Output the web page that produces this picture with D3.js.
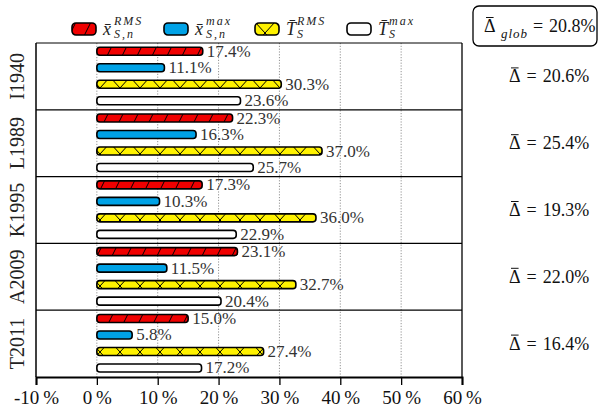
<!DOCTYPE html>
<html>
<head>
<meta charset="utf-8">
<script src="https://cdn.jsdelivr.net/npm/d3@7"></script>
<style>
  html, body { margin: 0; padding: 0; background: #fff; }
  svg { display: block; font-family: "Liberation Serif", "DejaVu Serif", serif; }
</style>
</head>
<body>
<svg id="chart" width="600" height="414"></svg>
<script>
// Relative errors per test case (percent)
const cases      = ["I1940", "L1989", "K1995", "A2009", "T2011"];
const xRmsNode   = [17.4, 22.3, 17.3, 23.1, 15.0];
const xMaxNode   = [11.1, 16.3, 10.3, 11.5, 5.8];
const tRmsStory  = [30.3, 37.0, 36.0, 32.7, 27.4];
const tMaxStory  = [23.6, 25.7, 22.9, 20.4, 17.2];
const deltaMean  = [20.6, 25.4, 19.3, 22.0, 16.4];
const deltaGlob  = 20.8;
const xTicks     = [-10, 0, 10, 20, 30, 40, 50, 60];
const gridTicks  = [0, 10, 20, 30, 40, 50];

const seriesKeys = ["xrms", "xmax", "trms", "tmax"];
const seriesVals = { xrms: xRmsNode, xmax: xMaxNode, trms: tRmsStory, tmax: tMaxStory };
const seriesFill = { xrms: "url(#hatchSlash)", xmax: "#00a2e6", trms: "url(#hatchCross)", tmax: "#ffffff" };
const legendLabels = [
  { key: "xrms", base: "x\u0304", sup: "RMS", sub: "S,n" },
  { key: "xmax", base: "x\u0304", sup: "max", sub: "S,n" },
  { key: "trms", base: "T\u0304", sup: "RMS", sub: "S" },
  { key: "tmax", base: "T\u0304", sup: "max", sub: "S" }
];

const svg = d3.select("#chart");
const plotL = 36, plotR = 462, plotT = 43, plotB = 377;

// Hatch patterns
const defs = svg.append("defs");
const pSlash = defs.append("pattern").attr("id", "hatchSlash")
  .attr("patternUnits", "userSpaceOnUse").attr("width", 15).attr("height", 30);
pSlash.append("rect").attr("width", 15).attr("height", 30).attr("fill", "#f00000");
pSlash.append("path").attr("d", "M0,30L15,0M-15,30L0,0M15,30L30,0")
  .attr("stroke", "#000").attr("stroke-width", 1);
const pCross = defs.append("pattern").attr("id", "hatchCross")
  .attr("patternUnits", "userSpaceOnUse").attr("width", 20).attr("height", 22);
pCross.append("rect").attr("width", 20).attr("height", 22).attr("fill", "#fff200");
pCross.append("path").attr("d", "M0,0L20,22M0,22L20,0")
  .attr("stroke", "#000").attr("stroke-width", 1);

const x = d3.scaleLinear().domain([-10, 60]).range([plotL, plotR]);
const y = d3.scaleBand().domain(cases).range([plotT, plotB]);
const yi = d3.scaleBand().domain(seriesKeys).range([0, y.bandwidth() - 0.8]);
const barH = 8;

// Dotted grid
svg.append("g").selectAll("line").data(gridTicks).join("line")
  .attr("x1", d => x(d)).attr("x2", d => x(d))
  .attr("y1", plotT).attr("y2", plotB)
  .attr("stroke", "#777").attr("stroke-width", 0.8).attr("stroke-dasharray", "1.2,1.6");

// Group separators and frame
svg.append("g").selectAll("line").data(cases.slice(1)).join("line")
  .attr("x1", plotL).attr("x2", plotR)
  .attr("y1", d => y(d)).attr("y2", d => y(d))
  .attr("stroke", "#000").attr("stroke-width", 1.3);
svg.append("line").attr("x1", plotL).attr("x2", plotR).attr("y1", plotT).attr("y2", plotT)
  .attr("stroke", "#000").attr("stroke-width", 1);
svg.append("line").attr("x1", plotL).attr("x2", plotL).attr("y1", plotT).attr("y2", plotB)
  .attr("stroke", "#000").attr("stroke-width", 1.5);
svg.append("line").attr("x1", plotR).attr("x2", plotR).attr("y1", plotT).attr("y2", plotB)
  .attr("stroke", "#000").attr("stroke-width", 1.3);

// Bottom axis
const axis = svg.append("g").attr("transform", `translate(0,${plotB})`)
  .call(d3.axisBottom(x).tickValues(xTicks).tickSize(8).tickPadding(6)
    .tickFormat(d => d + "\u2009%"));
axis.select(".domain").attr("stroke-width", 2);
axis.selectAll(".tick line").attr("stroke-width", 1.3);
axis.selectAll(".tick text").attr("font-size", 19).attr("fill", "#111")
  .attr("font-family", "Liberation Serif, serif");

// Bars
const rows = [];
cases.forEach((c, i) => seriesKeys.forEach(k => rows.push({ c, k, v: seriesVals[k][i] })));
const bars = svg.append("g");
bars.selectAll("rect").data(rows).join("rect")
  .attr("x", x(0))
  .attr("y", d => y(d.c) + yi(d.k) + yi.bandwidth() / 2 - barH / 2)
  .attr("width", d => x(d.v) - x(0))
  .attr("height", barH)
  .attr("rx", 3)
  .attr("fill", d => seriesFill[d.k])
  .attr("stroke", "#000").attr("stroke-width", 1.6);
bars.selectAll("text").data(rows).join("text")
  .attr("x", d => x(d.v) + 4)
  .attr("y", d => y(d.c) + yi(d.k) + yi.bandwidth() / 2 + 5.5)
  .attr("font-size", 17).attr("fill", "#333")
  .text(d => d.v.toFixed(1) + "%");

// Case labels (rotated)
svg.append("g").selectAll("text").data(cases).join("text")
  .attr("transform", d => `translate(24,${y(d) + y.bandwidth() / 2}) rotate(-90)`)
  .attr("text-anchor", "middle")
  .attr("font-size", 20).attr("fill", "#222")
  .text(d => d);

// Draws the bar over the leading Δ of a text node
function macron(node) {
  const ext = node.getExtentOfChar(0);
  const base = +node.getAttribute("y");
  svg.append("line")
    .attr("x1", ext.x + 2).attr("x2", ext.x + ext.width - 2)
    .attr("y1", base - 14.5).attr("y2", base - 14.5)
    .attr("stroke", "#111").attr("stroke-width", 1);
}

// Per-case mean error
const dt = svg.append("g").selectAll("text").data(deltaMean).join("text")
  .attr("x", 509)
  .attr("y", (d, i) => y(cases[i]) + y.bandwidth() / 2 + 6)
  .attr("font-size", 18).attr("fill", "#111")
  .text(d => "\u0394\u2004=\u2004" + d.toFixed(1) + "%");
dt.each(function () { macron(this); });

// Global mean error box
const gb = svg.append("g");
gb.append("rect").attr("x", 473).attr("y", 6).attr("width", 124).attr("height", 40)
  .attr("rx", 6).attr("fill", "#fff").attr("stroke", "#000").attr("stroke-width", 1.3);
const gt = gb.append("text").attr("y", 32).attr("font-size", 18).attr("fill", "#111");
gt.append("tspan").attr("x", 484).text("\u0394");
gt.append("tspan").attr("x", 501).attr("dy", 6).attr("font-size", 13)
  .attr("font-style", "italic").attr("letter-spacing", 1).text("glob");
gt.append("tspan").attr("x", 533).attr("dy", -6).text("=");
gt.append("tspan").attr("x", 549).text(deltaGlob.toFixed(1) + "%");
macron(gt.node());

// Legend
const legX = [72, 164, 255, 347];
const leg = svg.append("g").selectAll("g").data(legendLabels).join("g")
  .attr("transform", (d, i) => `translate(${legX[i]},0)`);
leg.append("rect").attr("x", 0).attr("y", 23).attr("width", 24).attr("height", 12)
  .attr("rx", 4).attr("fill", d => seriesFill[d.key])
  .attr("stroke", "#000").attr("stroke-width", 1.6);
const lt = leg.append("text").attr("y", 35).attr("font-style", "italic").attr("fill", "#222");
lt.append("tspan").attr("x", 31).attr("font-size", 18).text(d => d.base);
lt.append("tspan").attr("x", 42).attr("dy", -10).attr("font-size", 12)
  .attr("letter-spacing", 2).text(d => d.sup);
lt.append("tspan").attr("x", 42).attr("dy", 13).attr("font-size", 12)
  .attr("letter-spacing", 2).text(d => d.sub);
</script>
</body>
</html>
